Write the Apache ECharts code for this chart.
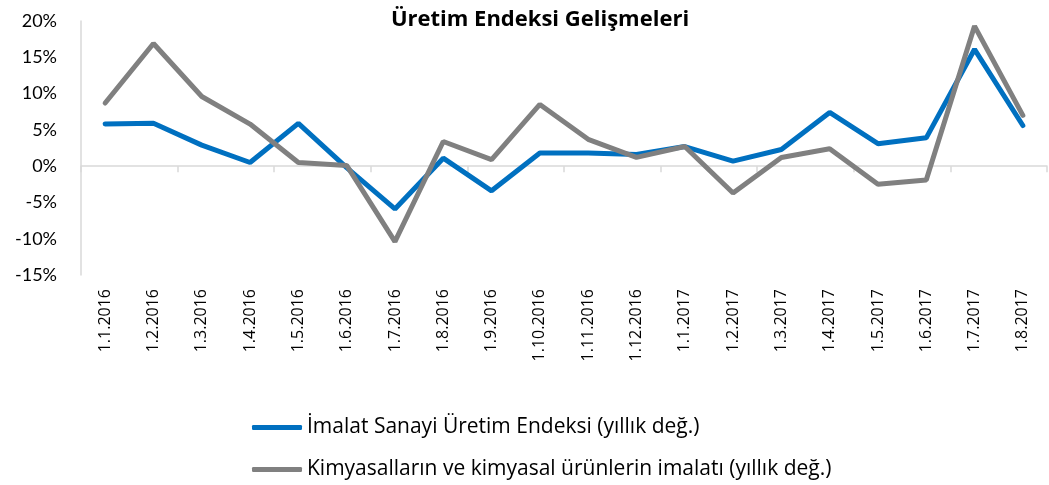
<!DOCTYPE html>
<html>
<head>
<meta charset="utf-8">
<script src="https://cdn.jsdelivr.net/npm/echarts@6/dist/echarts.min.js"></script>
<style>
  html, body { margin: 0; padding: 0; background: #fff; }
  #chart { width: 1049px; height: 485px; }
</style>
</head>
<body>
<div id="chart"></div>
<script>
var months = ['1.1.2016', '1.2.2016', '1.3.2016', '1.4.2016', '1.5.2016', '1.6.2016',
  '1.7.2016', '1.8.2016', '1.9.2016', '1.10.2016', '1.11.2016', '1.12.2016',
  '1.1.2017', '1.2.2017', '1.3.2017', '1.4.2017', '1.5.2017', '1.6.2017',
  '1.7.2017', '1.8.2017'];

// yillik degisim, %
var imalat = [5.8, 5.9, 2.9, 0.5, 5.9, -0.2, -5.9, 1.1, -3.4, 1.8,
  1.8, 1.6, 2.7, 0.7, 2.3, 7.4, 3.1, 3.9, 16.1, 5.6];
var kimya = [8.7, 16.9, 9.6, 5.8, 0.5, 0.1, -10.4, 3.4, 0.9, 8.5,
  3.7, 1.2, 2.7, -3.7, 1.2, 2.4, -2.5, -1.9, 19.3, 7.0];

var seriesNames = ['İmalat Sanayi Üretim Endeksi (yıllık değ.)',
  'Kimyasalların ve kimyasal ürünlerin imalatı (yıllık değ.)'];

var myChart = echarts.init(document.getElementById('chart'));

var option = {
  animation: false,
  textStyle: { fontFamily: '"Open Sans", sans-serif' },
  title: {
    text: 'Üretim Endeksi Gelişmeleri',
    left: 535,
    textAlign: 'center',
    top: 4,
    textStyle: { fontSize: 22, fontWeight: 'bold', color: '#000', fontFamily: '"Open Sans", sans-serif' }
  },
  legend: {
    orient: 'vertical',
    left: 247,
    top: 412,
    itemGap: 21,
    icon: 'roundRect',
    itemWidth: 50,
    itemHeight: 5,
    textStyle: { fontSize: 21, color: '#000' },
    data: seriesNames
  },
  grid: { left: 81, right: 2, top: 21, bottom: 210 },
  xAxis: [{
    type: 'category',
    data: months,
    axisLine: { onZero: true, lineStyle: { color: '#d9d9d9', width: 1.5 } },
    axisTick: { show: true, length: 6, lineStyle: { color: '#d9d9d9', width: 1.5 } },
    axisLabel: { show: false }
  }, {
    type: 'category',
    data: months,
    position: 'bottom',
    axisLine: { show: false, onZero: false },
    axisTick: { show: false },
    axisLabel: { rotate: 90, fontSize: 16, color: '#000', margin: 14 }
  }],
  yAxis: {
    type: 'value',
    min: -15,
    max: 20,
    interval: 5,
    splitLine: { show: false },
    axisLine: { show: true, lineStyle: { color: '#d9d9d9', width: 1.5 } },
    axisTick: { show: false },
    axisLabel: { fontSize: 18, color: '#000', margin: 24, formatter: '{value}%', fontFamily: 'Lato, sans-serif' }
  },
  series: [{
    name: seriesNames[0],
    type: 'line',
    data: imalat,
    symbol: 'none',
    lineStyle: { color: '#0070c0', width: 5, cap: 'round' },
    itemStyle: { color: '#0070c0' }
  }, {
    name: seriesNames[1],
    type: 'line',
    data: kimya,
    symbol: 'none',
    lineStyle: { color: '#808080', width: 5, cap: 'round' },
    itemStyle: { color: '#808080' }
  }]
};

myChart.setOption(option);
</script>
</body>
</html>
